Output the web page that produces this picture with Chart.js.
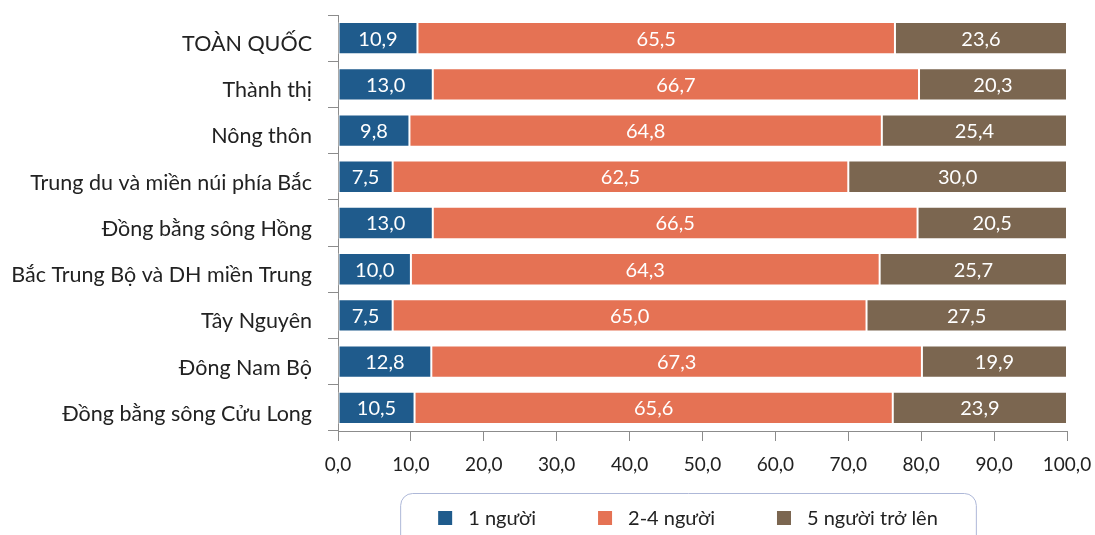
<!DOCTYPE html>
<html>
<head>
<meta charset="utf-8">
<script src="https://cdn.jsdelivr.net/npm/chart.js@4.4.1/dist/chart.umd.min.js"></script>
<style>
  html, body { margin: 0; padding: 0; background: #fff; }
  #wrap { width: 1095px; height: 535px; position: relative; }
</style>
</head>
<body>
<div id="wrap"><canvas id="myChart"></canvas></div>
<script>
var regions = [
    'TOÀN QUỐC',
    'Thành thị',
    'Nông thôn',
    'Trung du và miền núi phía Bắc',
    'Đồng bằng sông Hồng',
    'Bắc Trung Bộ và DH miền Trung',
    'Tây Nguyên',
    'Đông Nam Bộ',
    'Đồng bằng sông Cửu Long'
];
var onePerson   = [10.9, 13.0, 9.8, 7.5, 13.0, 10.0, 7.5, 12.8, 10.5];
var twoToFour   = [65.5, 66.7, 64.8, 62.5, 66.5, 64.3, 65.0, 67.3, 65.6];
var fivePlus    = [23.6, 20.3, 25.4, 30.0, 20.5, 25.7, 27.5, 19.9, 23.9];
var seriesNames = ['1 người', '2-4 người', '5 người trở lên'];
var colors      = ['#1F5B8C', '#E57254', '#7B6650'];

var FONT = 'Lato';

function fmt(v) {
    return v.toFixed(1).replace('.', ',');
}

// white value text in the middle of every segment
var valueLabels = {
    id: 'valueLabels',
    afterDatasetsDraw: function (chart) {
        var ctx = chart.ctx;
        ctx.save();
        ctx.font = '20px ' + FONT;
        ctx.fillStyle = '#ffffff';
        ctx.textAlign = 'center';
        ctx.textBaseline = 'middle';
        chart.data.datasets.forEach(function (ds, i) {
            chart.getDatasetMeta(i).data.forEach(function (bar, j) {
                var p = bar.getCenterPoint();
                ctx.fillText(fmt(ds.data[j]), p.x, p.y + 1);
            });
        });
        ctx.restore();
    }
};

// legend row inside a rounded frame under the axis
var boxLegend = {
    id: 'boxLegend',
    afterDraw: function (chart) {
        var ctx = chart.ctx;
        var sq = 14, gapText = 16, gapItem = 62, padX = 38;
        ctx.save();
        ctx.font = '20px ' + FONT;
        var widths = chart.data.datasets.map(function (ds) {
            return sq + gapText + ctx.measureText(ds.label).width;
        });
        var total = widths.reduce(function (a, b) { return a + b; }, 0) + gapItem * (widths.length - 1);
        var cx = 688;
        var x = cx - total / 2;
        var cy = 518;

        ctx.strokeStyle = '#AEB8D8';
        ctx.lineWidth = 1;
        ctx.beginPath();
        ctx.roundRect(x - padX + 0.5, 493.5, total + padX * 2, 70, 12);
        ctx.stroke();

        ctx.textAlign = 'left';
        ctx.textBaseline = 'middle';
        chart.data.datasets.forEach(function (ds, i) {
            ctx.fillStyle = ds.backgroundColor;
            ctx.fillRect(x, cy - sq / 2, sq, sq);
            ctx.fillStyle = '#222';
            ctx.fillText(ds.label, x + sq + gapText, cy + 1);
            x += widths[i] + gapItem;
        });
        ctx.restore();
    }
};

function createChart() {
    var ctx = document.getElementById('myChart').getContext('2d');
    var datasets = [onePerson, twoToFour, fivePlus].map(function (d, i) {
        return {
            label: seriesNames[i],
            data: d,
            backgroundColor: colors[i],
            borderColor: '#ffffff',
            borderWidth: 1,
            borderSkipped: false,
            barPercentage: 0.7,
            categoryPercentage: 1.0
        };
    });

    new Chart(ctx, {
        type: 'bar',
        data: { labels: regions, datasets: datasets },
        options: {
            indexAxis: 'y',
            responsive: true,
            maintainAspectRatio: false,
            animation: false,
            layout: { padding: { top: 15, right: 28, left: 0, bottom: 0 } },
            plugins: {
                legend: { display: false },
                tooltip: { enabled: false }
            },
            scales: {
                x: {
                    stacked: true,
                    min: 0,
                    max: 100,
                    ticks: {
                        stepSize: 10,
                        color: '#222',
                        font: { family: FONT, size: 19 },
                        padding: 12,
                        maxRotation: 0,
                        callback: function (v) { return fmt(v); }
                    },
                    grid: {
                        drawOnChartArea: false,
                        drawTicks: true,
                        tickLength: 10,
                        color: '#8c8c8c'
                    },
                    border: { color: '#8c8c8c' },
                    afterFit: function (scale) {
                        scale.height = 104;
                        scale.paddingLeft = 0;
                        scale.paddingRight = 0;
                    }
                },
                y: {
                    stacked: true,
                    ticks: {
                        color: '#222',
                        font: { family: FONT, size: 21.5 },
                        padding: 16,
                        labelOffset: 6,
                        autoSkip: false
                    },
                    grid: {
                        offset: true,
                        drawOnChartArea: false,
                        drawTicks: true,
                        tickLength: 10,
                        color: '#8c8c8c'
                    },
                    border: { color: '#8c8c8c' },
                    afterFit: function (scale) {
                        scale.width = 338;
                        scale.paddingTop = 0;
                        scale.paddingBottom = 0;
                    }
                }
            }
        },
        plugins: [valueLabels, boxLegend]
    });
}

createChart();
</script>
</body>
</html>
